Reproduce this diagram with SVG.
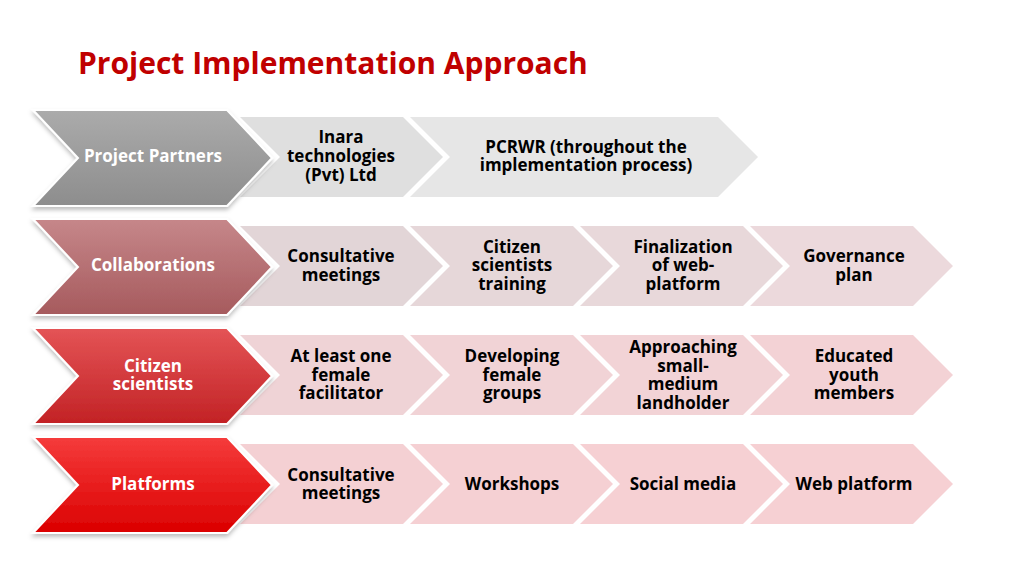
<svg xmlns="http://www.w3.org/2000/svg" width="1024" height="576" viewBox="0 0 1024 576">
<defs>
<linearGradient id="g1" x1="0" y1="0" x2="0" y2="1"><stop offset="0" stop-color="#ababab"/><stop offset="1" stop-color="#8d8d8d"/></linearGradient>
<linearGradient id="g2" x1="0" y1="0" x2="0" y2="1"><stop offset="0" stop-color="#c6878a"/><stop offset="1" stop-color="#a65a5d"/></linearGradient>
<linearGradient id="g3" x1="0" y1="0" x2="0" y2="1"><stop offset="0" stop-color="#e45456"/><stop offset="1" stop-color="#c22225"/></linearGradient>
<linearGradient id="g4" x1="0" y1="0" x2="0" y2="1"><stop offset="0" stop-color="#f53c3c"/><stop offset="1" stop-color="#db0000"/></linearGradient>
<filter id="sh" x="-10%" y="-10%" width="120%" height="130%"><feDropShadow dx="0" dy="3" stdDeviation="2" flood-color="#000" flood-opacity="0.25"/></filter>
<path id="hd" d="M0,-48 L194,-48 L239,0 L194,48 L0,48 L45,0 Z"/>
<path id="sc" d="M0,-40 L163,-40 L203,0 L163,40 L0,40 L40,0 Z"/>
</defs>
<style>
text{font-family:"Open Sans","Noto Sans","DejaVu Sans",sans-serif;font-weight:bold;text-anchor:middle}
.t{font-size:17px;fill:#000}
.h{font-size:17px;fill:#fff}
.title{font-size:30px;fill:#c00000;text-anchor:start}
.hd{stroke:#fff;stroke-width:2;filter:url(#sh)}
</style>
<rect width="1024" height="576" fill="#fff"/>
<text class="title" x="78" y="74">Project Implementation Approach</text>

<g id="connectors"></g>

<!-- Row 1 -->
<g id="row1-inara"><use href="#sc" x="240" y="157" fill="#dfdfdf"/><text class="t"><tspan x="341" y="143">Inara</tspan><tspan x="341" y="162">technologies</tspan><tspan x="341" y="181">(Pvt) Ltd</tspan></text></g>
<g id="row1-pcrwr"><path d="M410,117 L718,117 L758,157 L718,197 L410,197 L450,157 Z" fill="#e6e6e6"/><text class="t"><tspan x="586" y="153">PCRWR (throughout the</tspan><tspan x="586" y="171">implementation process)</tspan></text></g>
<g id="row1-header"><use href="#hd" x="33" y="158" fill="url(#g1)" class="hd"/><text class="h" x="153" y="162">Project Partners</text></g>

<!-- Row 2 -->
<g id="row2-consult"><use href="#sc" x="240" y="266" fill="#e2d5d7"/><text class="t"><tspan x="341" y="262">Consultative</tspan><tspan x="341" y="281">meetings</tspan></text></g>
<g id="row2-training"><use href="#sc" x="410" y="266" fill="#e6d7d9"/><text class="t"><tspan x="512" y="253">Citizen</tspan><tspan x="512" y="271">scientists</tspan><tspan x="512" y="290">training</tspan></text></g>
<g id="row2-final"><use href="#sc" x="580" y="266" fill="#e8d8da"/><text class="t"><tspan x="683" y="253">Finalization</tspan><tspan x="683" y="271">of web-</tspan><tspan x="683" y="290">platform</tspan></text></g>
<g id="row2-gov"><use href="#sc" x="750" y="266" fill="#ecd9dc"/><text class="t"><tspan x="854" y="262">Governance</tspan><tspan x="854" y="281">plan</tspan></text></g>
<g id="row2-header"><use href="#hd" x="33" y="267" fill="url(#g2)" class="hd"/><text class="h" x="153" y="271">Collaborations</text></g>

<!-- Row 3 -->
<g id="row3-female"><use href="#sc" x="240" y="375" fill="#efd3d6"/><text class="t"><tspan x="341" y="362">At least one</tspan><tspan x="341" y="381">female</tspan><tspan x="341" y="399">facilitator</tspan></text></g>
<g id="row3-groups"><use href="#sc" x="410" y="375" fill="#f1d3d6"/><text class="t"><tspan x="512" y="362">Developing</tspan><tspan x="512" y="381">female</tspan><tspan x="512" y="399">groups</tspan></text></g>
<g id="row3-land"><use href="#sc" x="580" y="375" fill="#f2d3d6"/><text class="t"><tspan x="683" y="353">Approaching</tspan><tspan x="683" y="372">small-</tspan><tspan x="683" y="390">medium</tspan><tspan x="683" y="409">landholder</tspan></text></g>
<g id="row3-youth"><use href="#sc" x="750" y="375" fill="#f3d2d5"/><text class="t"><tspan x="854" y="362">Educated</tspan><tspan x="854" y="381">youth</tspan><tspan x="854" y="399">members</tspan></text></g>
<g id="row3-header"><use href="#hd" x="33" y="376" fill="url(#g3)" class="hd"/><text class="h"><tspan x="153" y="372">Citizen</tspan><tspan x="153" y="390">scientists</tspan></text></g>

<!-- Row 4 -->
<g id="row4-consult"><use href="#sc" x="240" y="484" fill="#f4d0d3"/><text class="t"><tspan x="341" y="481">Consultative</tspan><tspan x="341" y="499">meetings</tspan></text></g>
<g id="row4-workshops"><use href="#sc" x="410" y="484" fill="#f5d0d3"/><text class="t" x="512" y="490">Workshops</text></g>
<g id="row4-social"><use href="#sc" x="580" y="484" fill="#f6d0d3"/><text class="t" x="683" y="490">Social media</text></g>
<g id="row4-web"><use href="#sc" x="750" y="484" fill="#f6d0d3"/><text class="t" x="854" y="490">Web platform</text></g>
<g id="row4-header"><use href="#hd" x="33" y="485" fill="url(#g4)" class="hd"/><text class="h" x="153" y="490">Platforms</text></g>
</svg>
